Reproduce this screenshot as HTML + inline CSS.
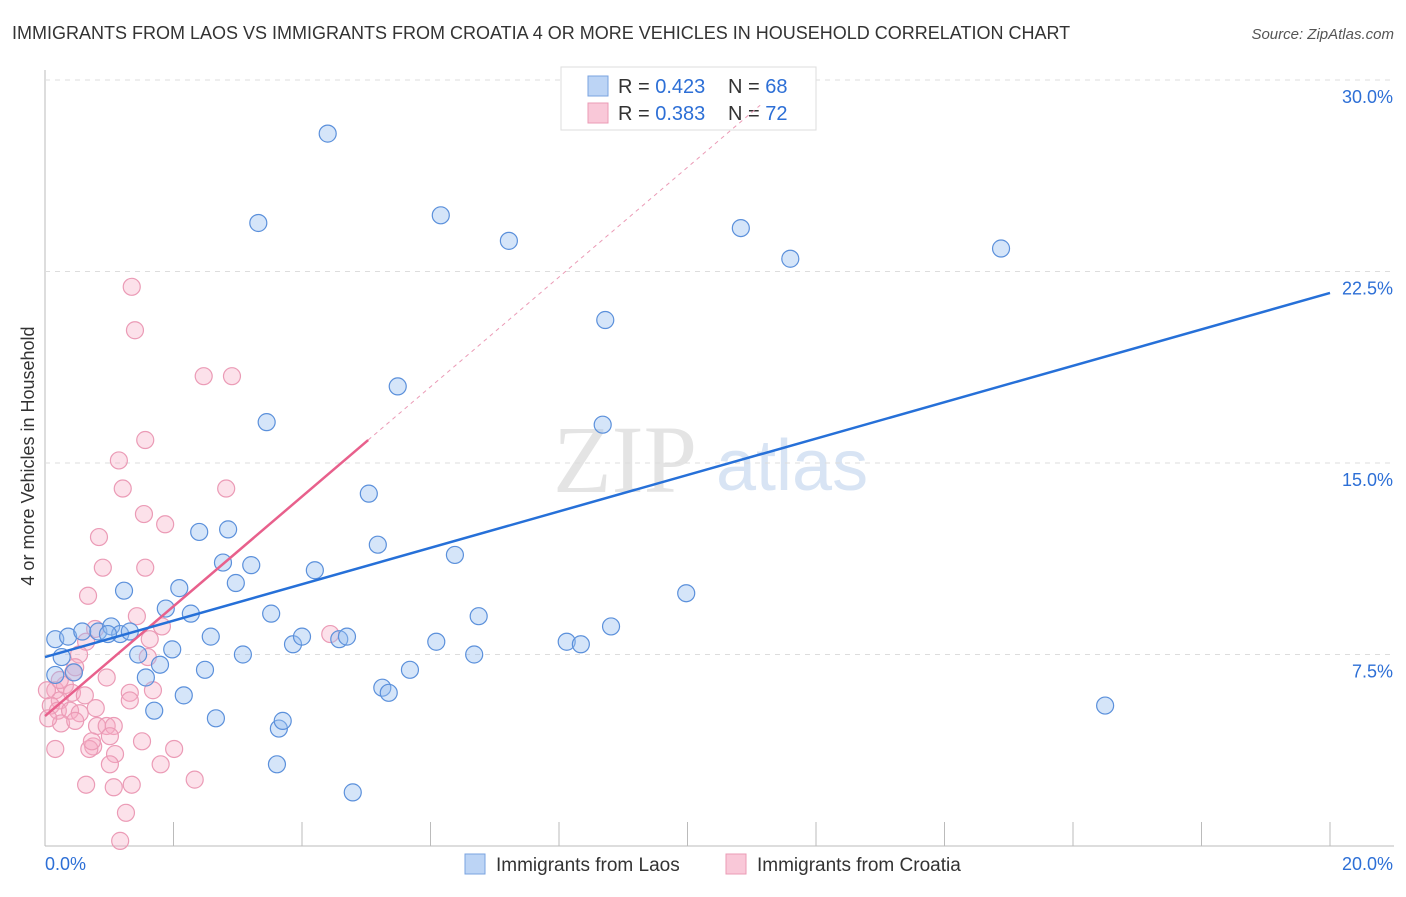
<!DOCTYPE html>
<html><head><meta charset="utf-8"><style>
body{margin:0;background:#fff;font-family:"Liberation Sans",sans-serif;}
</style></head><body>
<svg id="c" width="1406" height="892" xmlns="http://www.w3.org/2000/svg" font-family="Liberation Sans, sans-serif">
<text x="12" y="39" font-size="18" fill="#333">IMMIGRANTS FROM LAOS VS IMMIGRANTS FROM CROATIA 4 OR MORE VEHICLES IN HOUSEHOLD CORRELATION CHART</text>
<text x="1394" y="39" font-size="15" fill="#555" text-anchor="end" font-style="italic">Source: ZipAtlas.com</text>
<text x="553" y="492" font-size="96" fill="#e4e4e4" font-family="Liberation Serif, serif">ZIP</text>
<text x="716" y="490" font-size="72" fill="#d8e4f4">atlas</text>
<text transform="translate(34,456) rotate(-90)" font-size="18" fill="#333" text-anchor="middle">4 or more Vehicles in Household</text>
<g id="grid"></g><g id="lines"></g><g id="pts"></g>
<g>
<rect x="561" y="67" width="255" height="63" fill="#fff" stroke="#ddd"/>
<rect x="588" y="76" width="20" height="20" fill="#bcd4f5" stroke="#7aa3e0"/>
<rect x="588" y="103" width="20" height="20" fill="#f9c8d8" stroke="#eb9bb6"/>
<text x="618" y="93" font-size="20" fill="#333">R = <tspan fill="#2d6fd6">0.423</tspan></text>
<text x="728" y="93" font-size="20" fill="#333">N = <tspan fill="#2d6fd6">68</tspan></text>
<text x="618" y="120" font-size="20" fill="#333">R = <tspan fill="#2d6fd6">0.383</tspan></text>
<text x="728" y="120" font-size="20" fill="#333">N = <tspan fill="#2d6fd6">72</tspan></text>
</g>
<g>
<rect x="465" y="854" width="20" height="20" fill="#bcd4f5" stroke="#7aa3e0"/>
<text x="496" y="871" font-size="19" fill="#333">Immigrants from Laos</text>
<rect x="726" y="854" width="20" height="20" fill="#f9c8d8" stroke="#eb9bb6"/>
<text x="757" y="871" font-size="19" fill="#333">Immigrants from Croatia</text>
</g>
</svg>
<script>
const xTicks=[0,2,4,6,8,10,12,14,16,18,20];
const yTicks=[7.5,15,22.5,30];
const yTickLabels=["7.5%","15.0%","22.5%","30.0%"];
const laosX=[0.16,0.36,0.58,0.83,1.03,1.17,1.32,0.26,0.45,1.23,1.45,1.57,1.70,1.79,1.88,1.98,2.09,2.16,2.27,2.40,2.49,2.58,2.66,2.77,2.85,2.97,3.08,3.21,3.32,3.45,3.52,3.61,3.64,3.70,3.86,4.00,4.20,4.40,4.58,4.70,4.79,5.04,5.18,5.25,5.35,5.49,5.68,6.09,6.16,6.38,6.68,6.75,7.22,8.12,8.34,8.68,8.72,8.81,9.98,10.83,11.60,14.88,16.50,0.16,0.98];
const laosY=[8.1,8.2,8.4,8.4,8.6,8.3,8.4,7.4,6.8,10.0,7.5,6.6,5.3,7.1,9.3,7.7,10.1,5.9,9.1,12.3,6.9,8.2,5.0,11.1,12.4,10.3,7.5,11.0,24.4,16.6,9.1,3.2,4.6,4.9,7.9,8.2,10.8,27.9,8.1,8.2,2.1,13.8,11.8,6.2,6.0,18.0,6.9,8.0,24.7,11.4,7.5,9.0,23.7,8.0,7.9,16.5,20.6,8.6,9.9,24.2,23.0,23.4,5.5,6.7,8.3];
const croX=[1.35,1.40,2.47,2.91,1.56,1.15,1.21,2.82,1.54,1.87,0.84,0.90,1.56,0.67,1.43,1.82,0.78,0.64,1.63,0.53,1.60,0.47,0.96,0.44,0.16,0.23,0.31,0.42,0.62,1.32,1.68,0.09,0.20,0.39,0.54,0.79,1.32,0.25,0.47,0.81,0.96,1.07,0.75,1.01,1.09,0.69,0.16,1.51,2.01,1.80,1.01,2.33,0.64,1.07,1.35,1.26,1.17,4.44,0.73,0.05,0.03,0.23];
const croY=[21.9,20.2,18.4,18.4,15.9,15.1,14.0,14.0,13.0,12.6,12.1,10.9,10.9,9.8,9.0,8.6,8.5,8.0,8.1,7.5,7.4,7.0,6.6,6.8,6.1,5.7,6.3,6.0,5.9,6.0,6.1,5.5,5.3,5.3,5.2,5.4,5.7,4.8,4.9,4.7,4.7,4.7,3.9,4.3,3.6,3.8,3.8,4.1,3.8,3.2,3.2,2.6,2.4,2.3,2.4,1.3,0.2,8.3,4.1,5.0,6.1,6.5];
const laosLine=[7.40,21.66];
const croLine=[5.09,15.9,5.03];
const X=v=>45+v/20*1285, Y=v=>846-v/30*766;
const NS="http://www.w3.org/2000/svg";
function mk(tag,attrs,parent){const e=document.createElementNS(NS,tag);for(const k in attrs)e.setAttribute(k,attrs[k]);document.getElementById(parent).appendChild(e);return e;}
let e;
e=mk('line',{x1:45,y1:70,x2:45,y2:846,stroke:'#bbb'},'grid');


e=mk('line',{x1:45,y1:846,x2:1394,y2:846,stroke:'#bbb'},'grid');


xTicks.forEach(t=>{e=mk('line',{x1:X(t),y1:822,x2:X(t),y2:846,stroke:'#bbb'},'grid');

});
yTicks.forEach((t,i)=>{e=mk('line',{x1:45,y1:Y(t),x2:1394,y2:Y(t),stroke:'#ddd','stroke-dasharray':'5,5'},'grid');


e=mk('text',{x:1393,y:Y(t)+23,'font-size':18,fill:'#2d6fd6','text-anchor':'end'},'grid');e.textContent=yTickLabels[i];

});
e=mk('text',{x:45,y:870,'font-size':18,fill:'#2d6fd6'},'grid');e.textContent='0.0%';


e=mk('text',{x:1393,y:870,'font-size':18,fill:'#2d6fd6','text-anchor':'end'},'grid');e.textContent='20.0%';


croX.forEach((x,i)=>{e=mk('circle',{cx:X(x),cy:Y(croY[i]),r:8.5,fill:'rgba(246,170,195,0.35)',stroke:'#eb9bb6','stroke-width':1.2},'pts');

});
laosX.forEach((x,i)=>{e=mk('circle',{cx:X(x),cy:Y(laosY[i]),r:8.5,fill:'rgba(150,190,240,0.4)',stroke:'#5b90db','stroke-width':1.2},'pts');

});
const slope=(croLine[1]-croLine[0])/croLine[2];
e=mk('line',{x1:X(croLine[2]),y1:Y(croLine[1]),x2:X(croLine[2]+(30-croLine[1])/slope*0.93),y2:Y(croLine[1]+(30-croLine[1])*0.93),stroke:'#eb9bb6','stroke-dasharray':'4,4','stroke-width':1},'lines');


e=mk('line',{x1:X(0),y1:Y(croLine[0]),x2:X(croLine[2]),y2:Y(croLine[1]),stroke:'#e8608c','stroke-width':2.5},'lines');


e=mk('line',{x1:X(0),y1:Y(laosLine[0]),x2:X(20),y2:Y(laosLine[1]),stroke:'#2670d8','stroke-width':2.5},'lines');


document.getElementById('c').appendChild(document.getElementById('lines'));
</script>
</body></html>
